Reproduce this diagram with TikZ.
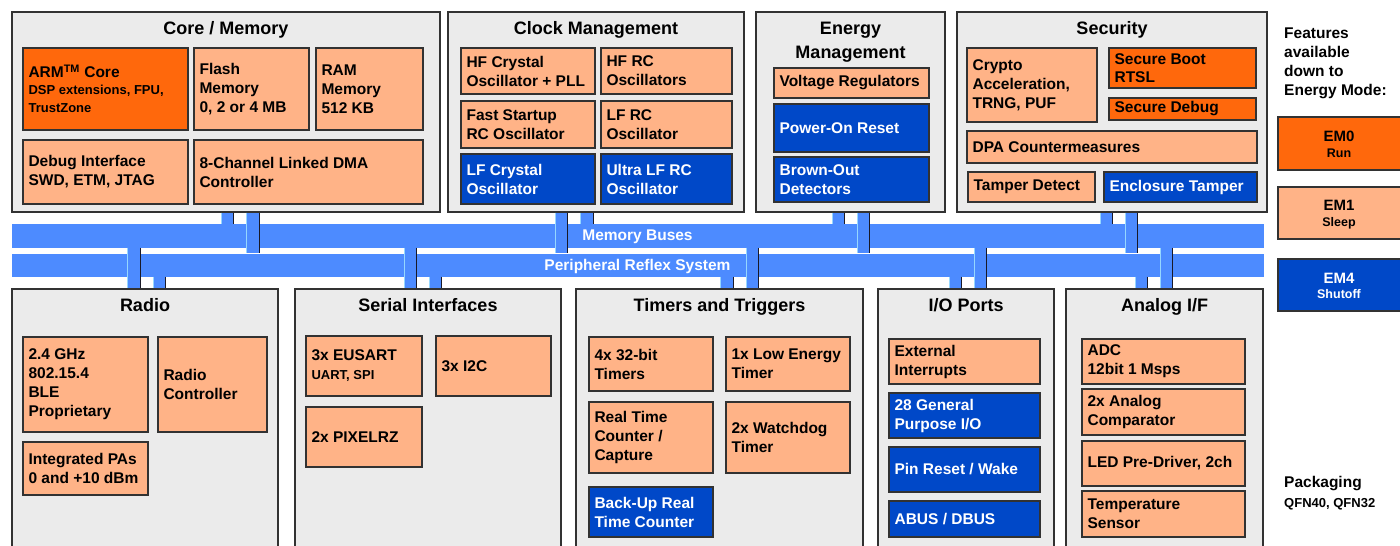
\documentclass[tikz,border=0pt]{standalone}
\usepackage{fontspec}
\setmainfont{Liberation Sans}
\definecolor{dorange}{RGB}{255,104,12}
\definecolor{peach}{RGB}{255,179,135}
\definecolor{eblue}{RGB}{0,72,200}
\definecolor{busblue}{RGB}{77,139,255}
\definecolor{contgray}{RGB}{235,235,235}
\definecolor{edgec}{RGB}{50,50,50}
\definecolor{stublight}{RGB}{150,215,255}
\definecolor{stubdark}{RGB}{25,25,40}
\newcommand\myT{\fontsize{18}{23}\selectfont\bfseries}
\newcommand\myB{\fontsize{15.5}{19}\selectfont\bfseries}
\newcommand\myS{\fontsize{13}{17.5}\selectfont\bfseries}
\newcommand\myE{\fontsize{15}{18}\selectfont\bfseries}
\newcommand\myR{\fontsize{12.5}{15}\selectfont\bfseries}
\tikzset{
  cont/.style={draw=edgec, line width=1.3pt, fill=contgray, inner sep=0pt},
  pbox/.style={draw=edgec, line width=1.3pt, fill=peach, inner sep=0pt},
  obox/.style={draw=edgec, line width=1.3pt, fill=dorange, inner sep=0pt},
  bbox/.style={draw=edgec, line width=1.3pt, fill=eblue, inner sep=0pt},
  embox/.style={draw=edgec, line width=1.3pt, inner sep=0pt},
  bus/.style={fill=busblue, inner sep=0pt},
  lbl/.style={anchor=west, align=left, inner sep=0pt, font=\myB, text=black},
  wlbl/.style={lbl, text=white},
  ttl/.style={anchor=base, inner sep=0pt, font=\myT, text=black},
  buslbl/.style={anchor=base, inner sep=0pt, font=\myB, text=white},
  stubL/.style={draw=stublight, line width=0.8pt},
  stubR/.style={draw=stubdark, line width=0.9pt},
}
% box: name, style, x1, y1, x2, y2
\newcommand\bx[6]{\pgfmathsetmacro\myW{#5-#3}\pgfmathsetmacro\myH{#6-#4}%
  \node[#2, minimum width=\myW pt, minimum height=\myH pt] (#1) at ({(#3+#5)/2},{(#4+#6)/2}) {};}
% label inside a box
\newcommand\tx[3][lbl]{\node[#1] (#2-t) at ([xshift=6pt]#2.west) {#3};}
% bus stub: x1, x2, from, to
\newcommand\stub[4]{%
  \fill[busblue] (#3 -| #1,0) rectangle (#4 -| #2,0);
  \draw[stubL] (#3 -| #1,0) -- (#4 -| #1,0);
  \draw[stubR] (#3 -| #2,0) -- (#4 -| #2,0);}
\begin{document}
\begin{tikzpicture}[x=1pt, y=-1pt]
\useasboundingbox (0,0) rectangle (1400,546);
\clip (0,0) rectangle (1400,546);
\fill[white] (0,0) rectangle (1400,546);

% buses
\bx{membus}{bus}{12}{224}{1264}{247.5}
\bx{prsbus}{bus}{12}{253.5}{1264}{276.5}
\node[buslbl] (membus-t) at (637.5,240) {Memory Buses};
\node[buslbl] (prsbus-t) at (637.5,270.5) {Peripheral Reflex System};

% containers (top)
\bx{core}{cont}{12}{12}{440}{212}
\bx{clock}{cont}{448}{12}{744}{212}
\bx{energy}{cont}{756}{12}{945}{212}
\bx{sec}{cont}{957}{12}{1267}{212}
% containers (bottom)
\bx{radio}{cont}{12}{289}{278}{570}
\bx{serial}{cont}{295}{289}{561}{570}
\bx{timers}{cont}{576}{289}{863}{570}
\bx{io}{cont}{878}{289}{1054}{570}
\bx{analog}{cont}{1066}{289}{1263}{570}

% stubs top
\stub{221}{233}{core.south}{membus.north}
\stub{246}{259}{core.south}{prsbus.north}
\stub{555}{567}{clock.south}{prsbus.north}
\stub{580}{593}{clock.south}{membus.north}
\stub{832}{844}{energy.south}{membus.north}
\stub{857}{869}{energy.south}{prsbus.north}
\stub{1100}{1112}{sec.south}{membus.north}
\stub{1125}{1137}{sec.south}{prsbus.north}
% stubs bottom
\stub{127}{140}{membus.south}{radio.north}
\stub{153}{165}{prsbus.south}{radio.north}
\stub{404}{416}{membus.south}{serial.north}
\stub{429}{441}{prsbus.south}{serial.north}
\stub{720}{733}{prsbus.south}{timers.north}
\stub{746}{758}{membus.south}{timers.north}
\stub{949}{961}{prsbus.south}{io.north}
\stub{974}{986}{membus.south}{io.north}
\stub{1135}{1147}{prsbus.south}{analog.north}
\stub{1160}{1172}{membus.south}{analog.north}

% titles
\node[ttl] (core-h) at (226,34) {Core / Memory};
\node[ttl] (clock-h) at (596,34) {Clock Management};
\node[ttl] (energy-h1) at (850.5,34) {Energy};
\node[ttl] (energy-h2) at (850.5,58) {Management};
\node[ttl] (sec-h) at (1112,34) {Security};
\node[ttl] (radio-h) at (145,311) {Radio};
\node[ttl] (serial-h) at (428,311) {Serial Interfaces};
\node[ttl] (timers-h) at (719.5,311) {Timers and Triggers};
\node[ttl] (io-h) at (966,311) {I/O Ports};
\node[ttl] (analog-h) at (1164.5,311) {Analog I/F};

% Core / Memory
\bx{arm}{obox}{23}{48}{188}{130}
\tx{arm}{{\myB ARM\textsuperscript{TM} Core}\\[-2.3pt]{\myS DSP extensions, FPU,}\\[-1pt]{\myS TrustZone}}
\bx{flash}{pbox}{194}{48}{309}{130}
\tx{flash}{Flash\\Memory\\0, 2 or 4 MB}
\bx{ram}{pbox}{316}{48}{423}{130}
\tx{ram}{RAM\\Memory\\512 KB}
\bx{debug}{pbox}{23}{140}{188}{204}
\tx{debug}{Debug Interface\\SWD, ETM, JTAG}
\bx{dma}{pbox}{194}{140}{423}{204}
\tx{dma}{8-Channel Linked DMA\\Controller}

% Clock
\bx{hfx}{pbox}{461}{48}{595}{94}
\tx{hfx}{HF Crystal\\Oscillator + PLL}
\bx{hfrc}{pbox}{601}{48}{732}{94}
\tx{hfrc}{HF RC\\Oscillators}
\bx{fsrc}{pbox}{461}{101}{595}{148}
\tx{fsrc}{Fast Startup\\RC Oscillator}
\bx{lfrc}{pbox}{601}{101}{732}{148}
\tx{lfrc}{LF RC\\Oscillator}
\bx{lfx}{bbox}{461}{154}{595}{204}
\tx[wlbl]{lfx}{LF Crystal\\Oscillator}
\bx{ulfrc}{bbox}{601}{154}{732}{204}
\tx[wlbl]{ulfrc}{Ultra LF RC\\Oscillator}

% Energy
\bx{vreg}{pbox}{774}{68}{929}{98}
\tx{vreg}{Voltage Regulators}
\bx{por}{bbox}{774}{104}{929}{152}
\tx[wlbl]{por}{Power-On Reset}
\bx{bod}{bbox}{774}{157}{929}{202}
\tx[wlbl]{bod}{Brown-Out\\Detectors}

% Security
\bx{crypto}{pbox}{967}{48}{1097}{122}
\tx{crypto}{Crypto\\Acceleration,\\TRNG, PUF}
\bx{sboot}{obox}{1109}{48}{1256}{88}
\tx{sboot}{Secure Boot\\[-1pt]RTSL}
\bx{sdbg}{obox}{1109}{98}{1256}{120}
\tx{sdbg}{Secure Debug}
\bx{dpa}{pbox}{967}{131}{1257}{163}
\tx{dpa}{DPA Countermeasures}
\bx{tamper}{pbox}{968}{172}{1095}{202}
\tx{tamper}{Tamper Detect}
\bx{encl}{bbox}{1104}{172}{1257}{202}
\tx[wlbl]{encl}{Enclosure Tamper}

% Radio
\bx{rf}{pbox}{23}{337}{148}{432}
\tx{rf}{2.4 GHz\\802.15.4\\BLE\\Proprietary}
\bx{rctl}{pbox}{158}{337}{267}{432}
\tx{rctl}{Radio\\Controller}
\bx{pa}{pbox}{23}{442}{148}{495}
\tx{pa}{Integrated PAs\\0 and +10 dBm}

% Serial
\bx{eusart}{pbox}{306}{336}{422}{396}
\tx{eusart}{3x EUSART\\{\myS UART, SPI}}
\bx{i2c}{pbox}{436}{336}{551}{396}
\tx{i2c}{3x I2C}
\bx{pixel}{pbox}{306}{407}{422}{467}
\tx{pixel}{2x PIXELRZ}

% Timers
\bx{t32}{pbox}{589}{337}{713}{391}
\tx{t32}{4x 32-bit\\Timers}
\bx{letim}{pbox}{726}{337}{850}{391}
\tx{letim}{1x Low Energy\\Timer}
\bx{rtc}{pbox}{589}{402}{713}{473}
\tx{rtc}{Real Time\\Counter /\\Capture}
\bx{wdog}{pbox}{726}{402}{850}{473}
\tx{wdog}{2x Watchdog\\Timer}
\bx{burtc}{bbox}{589}{487}{713}{537}
\tx[wlbl]{burtc}{Back-Up Real\\Time Counter}

% I/O
\bx{extint}{pbox}{889}{339}{1040}{384}
\tx{extint}{External\\Interrupts}
\bx{gpio}{bbox}{889}{393}{1040}{438}
\tx[wlbl]{gpio}{28 General\\Purpose I/O}
\bx{pinrst}{bbox}{889}{447}{1040}{492}
\tx[wlbl]{pinrst}{Pin Reset / Wake}
\bx{abus}{bbox}{889}{501}{1040}{537}
\tx[wlbl]{abus}{ABUS / DBUS}

% Analog
\bx{adc}{pbox}{1082}{339}{1245}{384}
\tx{adc}{ADC\\12bit 1 Msps}
\bx{acmp}{pbox}{1082}{389}{1245}{435}
\tx{acmp}{2x Analog\\Comparator}
\bx{led}{pbox}{1082}{441}{1245}{486}
\tx{led}{LED Pre-Driver, 2ch}
\bx{temp}{pbox}{1082}{491}{1245}{537}
\tx{temp}{Temperature\\Sensor}

% Legend
\node[anchor=base west, inner sep=0pt, font=\myB] (feat1) at (1284,38) {Features};
\node[anchor=base west, inner sep=0pt, font=\myB] (feat2) at (1284,57) {available};
\node[anchor=base west, inner sep=0pt, font=\myB] (feat3) at (1284,76) {down to};
\node[anchor=base west, inner sep=0pt, font=\myB] (feat4) at (1284,95) {Energy Mode:};
\bx{em0}{embox, fill=dorange}{1278}{117}{1406}{170}
\node[anchor=base, inner sep=0pt, font=\myE] (em0-a) at (1339,141) {EM0};
\node[anchor=base, inner sep=0pt, font=\myR] (em0-b) at (1339,157) {Run};
\bx{em1}{embox, fill=peach}{1278}{187}{1406}{239}
\node[anchor=base, inner sep=0pt, font=\myE] (em1-a) at (1339,210) {EM1};
\node[anchor=base, inner sep=0pt, font=\myR] (em1-b) at (1339,226) {Sleep};
\bx{em4}{embox, fill=eblue}{1278}{259}{1406}{311}
\node[anchor=base, inner sep=0pt, font=\myE, text=white] (em4-a) at (1339,283) {EM4};
\node[anchor=base, inner sep=0pt, font=\myR, text=white] (em4-b) at (1339,298) {Shutoff};
\node[anchor=base west, inner sep=0pt, font=\myB] (pkg1) at (1284,487) {Packaging};
\node[anchor=base west, inner sep=0pt, font=\myS] (pkg2) at (1284,507) {QFN40, QFN32};
\end{tikzpicture}
\end{document}
